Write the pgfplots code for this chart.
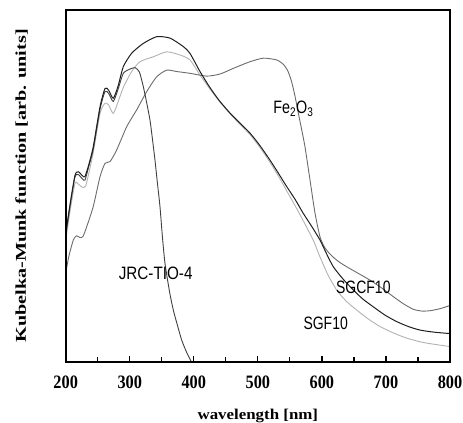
\documentclass[border=0pt]{standalone}
\usepackage{fontspec}
\setmainfont{Liberation Serif}
\newfontfamily\lab{Liberation Sans}
\usepackage{graphicx}
\usepackage{pgfplots}
\pgfplotsset{compat=1.18}
\usepackage{pgfplotstable}

\pgfplotstableread{
x y
200 36.5
207 45
214.5 53.0
219.7 54.0
226 52.9
230 52.6
236 56
243 61.1
253.6 72.5
261.4 77.7
267 77.2
274.3 74.9
282 78.5
290 83.9
303 87.7
321.2 90.5
342 92.4
362.8 92.0
383.6 89.6
393.9 87.7
409.7 82.5
425 78.0
440 74.2
456.5 70.7
470 68.2
487.7 65.0
503 61.5
519 57.3
532 53.6
545 49.8
558 46.2
570.5 42.3
584 38.5
597 34.6
607 30.8
617.8 27.0
633 23.5
649 20.4
664 17.8
680.3 15.6
698 13.3
716.8 11.4
735 10.0
753 9.0
775 8.4
800 8.0
}\sgcf

\pgfplotstableread{
x y
200 34.5
207 43
214.5 50.7
219.7 50.5
226 49.6
231 49.9
236 53.5
243 59.5
253.6 70.6
261.4 73.5
267 73.0
274.3 70.6
282 74
290 78.0
303 82.5
316 85.3
336.8 86.7
357.7 88.1
378.5 87.2
394 85.8
409.7 81.5
425 77.6
440 74.0
456.5 70.5
470 67.9
487.7 64.6
503 61.0
519 56.7
532 52.8
545 48.6
558 44.4
570.5 40.2
586.6 34.5
597 29.8
610 24.5
623 20.4
638 17.2
654.3 14.7
672 12.2
690.7 10.0
710 8.3
732.4 6.7
760 5.4
800 4.3
}\sgf

\pgfplotstableread{
x y
200 25.2
205 30
211.9 34.6
217 35.8
222.3 35.3
227 35.6
233 38.5
243 44.1
253.6 52.6
261.4 56.4
269.2 56.9
279.6 60.2
295.2 66.8
310.8 71.6
326.5 76.8
342 81.0
357.7 82.9
373.3 82.5
394 82.0
420 81.2
441 81.8
461.7 83.4
487.8 85.3
508.6 86.3
529.4 85.8
540 84.5
547 82.6
552.9 79.5
558 75.5
563.2 70.7
568.4 66.0
573.6 61.1
581.4 51.7
589.2 42.3
597 35.5
604 32.6
612.6 30.6
625 28.6
638.7 27.0
656 25.2
675 23.2
693 21.0
711.5 18.5
727 16.5
742.7 14.9
756 14.4
769 14.5
785 15.1
800 16.0
}\fe

\pgfplotstableread{
x y
200 35.8
207 44.5
214.5 52.5
219.7 53.2
226 52.0
230 51.6
236 55.5
243 60.4
253.6 71.8
261.4 76.8
267 76.3
274.3 74.0
282 77.6
290 82.0
300.4 83.2
308.2 83.6
315 82.4
321.2 78.2
326 74.0
331.6 68.7
335.5 63.2
339.4 57.3
343.3 50.6
347.2 44.1
351 35.5
355 28.0
362 20.0
368 14.7
375 10.0
381 6.2
388 3.0
396 0.0
}\jrc

\begin{document}
\begin{tikzpicture}
\begin{axis}[
  name=ax,
  at={(0,0)}, anchor=south west,
  scale only axis,
  width=384.3bp, height=351.7bp,
  xmin=200, xmax=800, ymin=0, ymax=100,
  xtick={200,300,...,800},
  minor x tick num=1,
  ytick=\empty,
  tick pos=bottom,
  tick align=inside,
  major tick length=6bp,
  minor tick length=4.5bp,
  xtick style={black, line width=1.2bp},
  axis line style={black, line width=1.6bp},
  /pgf/number format/assume math mode=true,
  xticklabel={\scalebox{0.86}[1]{\pgfmathprintnumber{\tick}}},
  xticklabel style={font=\bfseries\fontsize{19}{19}\selectfont, anchor=base, yshift=-26.6bp},
  xlabel={\scalebox{1.13}[1]{wavelength [nm]}},
  ylabel={\scalebox{1.35}[1]{Kubelka-Munk function [arb. units]}},
  xlabel style={font=\bfseries\fontsize{15}{15}\selectfont, at={(axis description cs:0.5,0)}, anchor=base, yshift=-58bp},
  ylabel style={font=\bfseries\fontsize{15}{15}\selectfont, at={(axis description cs:0,0.5)}, anchor=center, yshift=44.2bp},
  clip=true,
]
\addplot[black!30, line width=0.9bp, smooth, tension=0.4] table {\sgf};
\addplot[black!58, line width=0.9bp, smooth, tension=0.4] table {\fe};
\addplot[black!75, line width=0.9bp, smooth, tension=0.4] table {\jrc};
\addplot[black!88, line width=1.0bp, smooth, tension=0.4] table {\sgcf};
\node at (axis cs:555.4,72) {\scalebox{0.8}[1]{\lab\fontsize{18}{18}\selectfont Fe\textsubscript{2}O\textsubscript{3}}};
\node at (axis cs:340.5,25.1) {\scalebox{0.85}[1]{\lab\fontsize{18}{18}\selectfont JRC-TIO-4}};
\node at (axis cs:664.7,21.2) {\scalebox{0.78}[1]{\lab\fontsize{18}{18}\selectfont SGCF10}};
\node at (axis cs:605.9,10.9) {\scalebox{0.78}[1]{\lab\fontsize{18}{18}\selectfont SGF10}};
\end{axis}
\draw[black, line width=1.8bp] (ax.south west) rectangle (ax.north east);
\pgfresetboundingbox
\path[use as bounding box] (-65.7bp,-61.3bp) rectangle (397.3bp,361.7bp);
\end{tikzpicture}
\end{document}
